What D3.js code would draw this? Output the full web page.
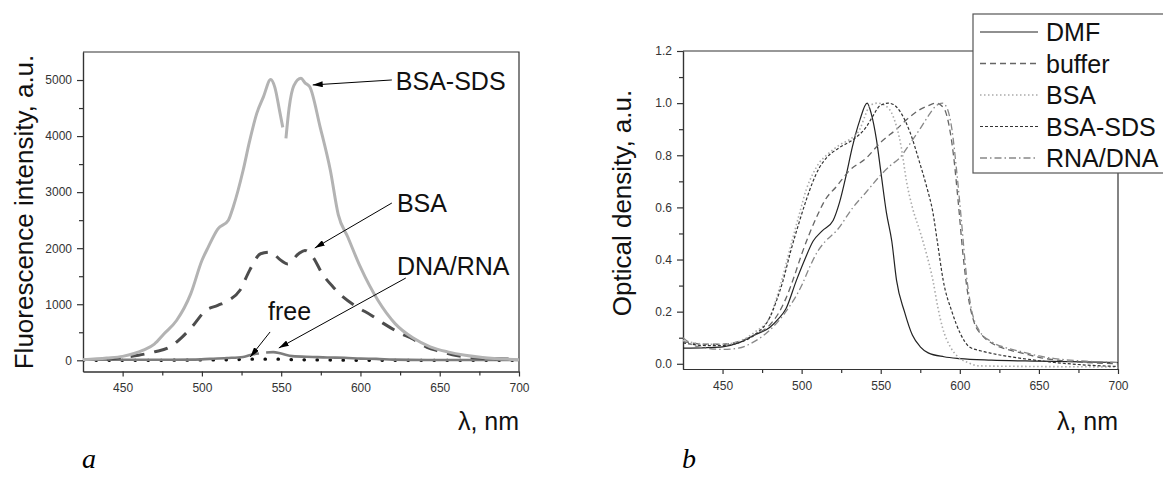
<!DOCTYPE html>
<html>
<head>
<meta charset="utf-8">
<script src="https://cdn.jsdelivr.net/npm/d3@7"></script>
<style>
  body { margin: 0; background: #fff; overflow: hidden; }
  svg { display: block; font-family: 'Liberation Sans', Arial, sans-serif; }
  .axis text { font-size: 12px; fill: #333; }
  .axis path, .axis line { stroke: #333; stroke-width: 1.2; }
</style>
</head>
<body>
<svg id="chart" width="1163" height="477"></svg>
<script>
// ---- panel a: fluorescence spectra, [wavelength nm, intensity a.u.]
let fluoBsaSds = [
  [425, 10], [440, 40], [450, 70], [463, 180], [470, 290], [476, 470], [484, 710],
  [493, 1190], [500, 1780], [504, 2020], [510, 2340], [516.7, 2500], [519.8, 2740],
  [526, 3390], [530, 3900], [534.6, 4405], [538.8, 4700], [543.4, 5010], [546, 4870],
  [549, 4450], [551, 4155], [552, null], [553, 3960], [555, 4500], [558, 4900],
  [562.5, 5030], [565, 4950], [568, 4880], [574.5, 4170], [581, 3390], [586, 2600],
  [592, 2200], [600, 1660], [611, 1070], [622, 650], [633, 400], [644, 240],
  [655, 150], [666, 90], [677, 50], [700, 10]
]
let fluoBsa = [
  [440, 20], [450, 50], [460, 90], [470, 150], [480, 240], [487, 400], [495, 640],
  [502, 880], [510, 980], [517, 1070], [524, 1250], [530, 1600], [537, 1900],
  [543, 1930], [550, 1780], [554, 1720], [561, 1900], [565, 1960], [570, 1840],
  [576, 1540], [583, 1300], [589, 1130], [598, 950], [607, 800], [615, 650],
  [624, 500], [633, 380], [642, 230], [650, 160], [658, 100], [666, 60], [680, 30],
  [700, 20]
]
let fluoDnaRna = [
  [425, 10], [460, 10], [480, 10], [494.6, 12], [505, 25], [515.7, 40], [526, 60],
  [532.4, 107], [536, 120], [539, null], [540.5, 140], [545, 145], [550, 120],
  [557, 75], [570, 60], [579, 50], [590, 45], [600, 30], [610, 25], [620.6, 12],
  [642, 5], [700, 5]
]
let fluoFree = [
  [425, 0], [470, 0], [500, 5], [520, 10], [530, 20], [545, 20], [560, 10],
  [580, 5], [600, 0], [625, 0], [700, 0]
]
let fluoLabels = [
  { text: 'BSA-SDS', at: [622.3, 4822], from: [619.8, 5001], to: [569.9, 4912] },
  { text: 'BSA', at: [623, 2646], from: [619.8, 2806], to: [571.2, 2003] },
  { text: 'DNA/RNA', at: [623, 1522], from: [628.6, 1468], to: [548.5, 219] },
  { text: 'free', at: [541.7, 719], from: [543, 505], to: [530.5, 59] }
]

// ---- panel b: absorption spectra, [wavelength nm, optical density]
let odDmf = [
  [425, 0.06], [440, 0.062], [450, 0.065], [460, 0.08], [470, 0.11], [480, 0.14],
  [485, 0.17], [490, 0.21], [496.7, 0.32], [502, 0.4], [507.2, 0.47], [513, 0.51],
  [519.9, 0.55], [524, 0.62], [528.4, 0.73], [532, 0.83], [536.8, 0.935],
  [541.4, 1.0], [544, 0.96], [547.3, 0.86], [550, 0.74], [553.6, 0.58], [557, 0.47],
  [560, 0.32], [565, 0.2], [570, 0.11], [575, 0.065], [580, 0.042], [590, 0.027],
  [600, 0.02], [620, 0.014], [650, 0.01], [700, 0.005]
]
let odBuffer = [
  [425, 0.085], [440, 0.075], [450, 0.075], [460, 0.085], [470, 0.11], [480, 0.15],
  [485, 0.19], [490, 0.25], [495, 0.33], [500, 0.42], [505, 0.5], [510, 0.57],
  [515, 0.63], [522, 0.68], [530, 0.74], [541, 0.79], [550, 0.85], [560, 0.9],
  [567, 0.94], [574.7, 0.975], [580, 0.99], [585, 1.0], [590, 0.98], [593, 0.92],
  [596, 0.8], [599, 0.62], [602, 0.42], [605, 0.27], [609, 0.16], [614, 0.11],
  [620, 0.08], [630, 0.055], [640, 0.04], [650, 0.025], [660, 0.015], [680, 0.005],
  [700, 0.0]
]
let odBsa = [
  [425, 0.09], [440, 0.075], [450, 0.075], [460, 0.085], [470, 0.12], [480, 0.18],
  [484, 0.25], [488.3, 0.34], [493, 0.45], [498.8, 0.58], [503, 0.67], [507.2, 0.73],
  [511, 0.77], [515.7, 0.8], [524.1, 0.84], [532.5, 0.87], [536.8, 0.9], [540, 0.95],
  [543.1, 0.99], [548, 1.0], [553, 0.99], [557.8, 0.95], [563, 0.83], [566.3, 0.7],
  [570, 0.6], [574.7, 0.51], [579, 0.42], [583, 0.32], [586, 0.22], [589, 0.14],
  [594, 0.065], [599, 0.026], [605, 0.005], [612, -0.008], [640, -0.01], [700, -0.012]
]
let odBsaSds = [
  [425, 0.08], [440, 0.07], [450, 0.07], [460, 0.08], [470, 0.11], [480, 0.18],
  [484, 0.24], [488.3, 0.32], [493, 0.43], [498.8, 0.55], [503, 0.63], [507.2, 0.7],
  [511, 0.75], [515.7, 0.79], [524.1, 0.83], [532.5, 0.86], [541, 0.91], [545, 0.95],
  [549.5, 0.99], [554.7, 1.0], [558, 0.995], [562, 0.97], [568.4, 0.89], [574.7, 0.77],
  [579, 0.68], [583, 0.58], [586, 0.46], [589.5, 0.32], [595, 0.2], [600.4, 0.115],
  [606, 0.065], [613, 0.05], [620, 0.04], [640, 0.02], [660, 0.005], [680, -0.005],
  [700, -0.01]
]
let odRnaDna = [
  [425, 0.1], [432, 0.07], [440, 0.06], [450, 0.055], [460, 0.06], [470, 0.085],
  [480, 0.13], [490, 0.2], [500, 0.3], [505, 0.37], [510, 0.43], [515, 0.47],
  [522, 0.51], [532.5, 0.6], [541, 0.66], [549.4, 0.72], [556, 0.76], [562, 0.79],
  [568, 0.84], [574.7, 0.9], [580, 0.95], [585, 0.99], [589, 1.0], [592, 0.98],
  [595, 0.9], [598, 0.74], [601, 0.55], [604, 0.35], [607, 0.22], [612, 0.13],
  [620, 0.085], [630, 0.06], [640, 0.045], [650, 0.03], [660, 0.02], [680, 0.01],
  [700, 0.005]
]

let wlMajor = [450, 500, 550, 600, 650, 700]
let wlMinor = [475, 525, 575, 625, 675]
let fluoMajor = [0, 1000, 2000, 3000, 4000, 5000]
let fluoMinor = [500, 1500, 2500, 3500, 4500]
let odMajor = [0, 0.2, 0.4, 0.6, 0.8, 1.0, 1.2]
let odMinor = [0.1, 0.3, 0.5, 0.7, 0.9, 1.1]
let legendNames = ['DMF', 'buffer', 'BSA', 'BSA-SDS', 'RNA/DNA']

let svg = d3.select('#chart')

let defs = svg.append('defs')
defs
  .append('marker')
  .attr('id', 'arrow')
  .attr('viewBox', '0 0 10 6')
  .attr('refX', 10)
  .attr('refY', 3)
  .attr('markerWidth', 10)
  .attr('markerHeight', 6)
  .attr('markerUnits', 'userSpaceOnUse')
  .attr('orient', 'auto')
  .append('path')
  .attr('d', 'M0,0L10,3L0,6Z')
  .attr('fill', '#000')

function makeFrame(id, xScale, yScale, yMajor, yMinor, yFormat) {
  let g = svg.append('g')
  let [x0, x1] = xScale.range()
  let [y0, y1] = yScale.range()

  defs
    .append('clipPath')
    .attr('id', id)
    .append('rect')
    .attr('x', x0)
    .attr('y', y1)
    .attr('width', x1 - x0)
    .attr('height', y0 - y1)

  // minor ticks first, majors on top
  g.append('g')
    .attr('class', 'axis')
    .attr('transform', 'translate(0,' + y0 + ')')
    .call(d3.axisBottom(xScale).tickValues(wlMinor).tickSize(4).tickFormat('').tickSizeOuter(0))
  g.append('g')
    .attr('class', 'axis')
    .attr('transform', 'translate(0,' + y0 + ')')
    .call(d3.axisBottom(xScale).tickValues(wlMajor).tickSize(5).tickPadding(7).tickSizeOuter(0))

  g.append('g')
    .attr('class', 'axis')
    .attr('transform', 'translate(' + x0 + ',0)')
    .call(d3.axisLeft(yScale).tickValues(yMinor).tickSize(4).tickFormat('').tickSizeOuter(0))
  g.append('g')
    .attr('class', 'axis')
    .attr('transform', 'translate(' + x0 + ',0)')
    .call(
      d3.axisLeft(yScale).tickValues(yMajor).tickSize(6).tickPadding(5)
        .tickFormat(yFormat).tickSizeOuter(0)
    )

  // top and right border of the box
  g.append('path')
    .attr('d', 'M' + x0 + ',' + y1 + 'H' + x1 + 'V' + y0)
    .attr('fill', 'none')
    .attr('stroke', '#333')
    .attr('stroke-width', 1.2)

  return g
}

function drawSeries(g, clipId, xScale, yScale, data, style) {
  let line = d3
    .line()
    .defined(d => d[1] !== null)
    .x(d => xScale(d[0]))
    .y(d => yScale(d[1]))
    .curve(d3.curveMonotoneX)
  g.append('path')
    .datum(data)
    .attr('clip-path', 'url(#' + clipId + ')')
    .attr('d', line)
    .attr('fill', 'none')
    .attr('stroke', style.color)
    .attr('stroke-width', style.width)
    .attr('stroke-dasharray', style.dash || null)
    .attr('stroke-linecap', style.cap || 'butt')
    .attr('stroke-linejoin', 'round')
}

// ================= panel a =================
let xA = d3.scaleLinear().domain([425, 700]).range([83, 519])
let yA = d3.scaleLinear().domain([-200, 5500]).range([371.5, 52])

let gA = makeFrame('clip-a', xA, yA, fluoMajor, fluoMinor, d3.format('d'))

drawSeries(gA, 'clip-a', xA, yA, fluoFree, { color: '#111', width: 3.2, dash: '0.5,12.5', cap: 'round' })
drawSeries(gA, 'clip-a', xA, yA, fluoDnaRna, { color: '#7d7d7d', width: 2.6 })
drawSeries(gA, 'clip-a', xA, yA, fluoBsa, { color: '#4d4d4d', width: 3, dash: '14,10' })
drawSeries(gA, 'clip-a', xA, yA, fluoBsaSds, { color: '#b3b3b3', width: 3 })

fluoLabels.forEach(d => {
  gA.append('line')
    .attr('x1', xA(d.from[0]))
    .attr('y1', yA(d.from[1]))
    .attr('x2', xA(d.to[0]))
    .attr('y2', yA(d.to[1]))
    .attr('stroke', '#000')
    .attr('stroke-width', 1)
    .attr('marker-end', 'url(#arrow)')
  gA.append('text')
    .attr('x', xA(d.at[0]))
    .attr('y', yA(d.at[1]))
    .attr('font-size', 25)
    .attr('fill', '#111')
    .text(d.text)
})

gA.append('text')
  .attr('transform', 'translate(24,212) rotate(-90)')
  .attr('text-anchor', 'middle')
  .attr('dy', '0.35em')
  .attr('font-size', 26)
  .attr('fill', '#111')
  .text('Fluorescence intensity, a.u.')

gA.append('text')
  .attr('x', 519)
  .attr('y', 430)
  .attr('text-anchor', 'end')
  .attr('font-size', 25)
  .attr('fill', '#111')
  .text('λ, nm')

gA.append('text')
  .attr('x', 82)
  .attr('y', 468)
  .attr('font-family', "'Liberation Serif', 'Times New Roman', serif")
  .attr('font-style', 'italic')
  .attr('font-size', 28)
  .text('a')

// ================= panel b =================
let xB = d3.scaleLinear().domain([425, 700]).range([683, 1118])
let yB = d3.scaleLinear().domain([-0.02, 1.2]).range([369, 51])

let gB = makeFrame('clip-b', xB, yB, odMajor, odMinor, d3.format('.1f'))

let odStyles = [
  { color: '#222', width: 1.2 },
  { color: '#666', width: 1.3, dash: '6,4' },
  { color: '#aaa', width: 1.6, dash: '1.5,2.5' },
  { color: '#333', width: 1.2, dash: '3,2' },
  { color: '#888', width: 1.3, dash: '7,3,1.5,3' }
]
let odSeries = [odDmf, odBuffer, odBsa, odBsaSds, odRnaDna]

odSeries.forEach((data, i) => {
  drawSeries(gB, 'clip-b', xB, yB, data, odStyles[i])
})

// legend box in the upper right corner
let legend = gB.append('g')
legend
  .append('rect')
  .attr('x', 973)
  .attr('y', 14)
  .attr('width', 200)
  .attr('height', 159)
  .attr('fill', '#fff')
  .attr('stroke', '#555')
  .attr('stroke-width', 1.2)

legendNames.forEach((name, i) => {
  let cy = 32 + i * 31.5
  legend
    .append('line')
    .attr('x1', 980)
    .attr('x2', 1038)
    .attr('y1', cy)
    .attr('y2', cy)
    .attr('stroke', odStyles[i].color)
    .attr('stroke-width', odStyles[i].width)
    .attr('stroke-dasharray', odStyles[i].dash || null)
  legend
    .append('text')
    .attr('x', 1046)
    .attr('y', cy)
    .attr('dy', '0.36em')
    .attr('font-size', 25)
    .attr('fill', '#111')
    .text(name)
})

gB.append('text')
  .attr('transform', 'translate(622,203) rotate(-90)')
  .attr('text-anchor', 'middle')
  .attr('dy', '0.35em')
  .attr('font-size', 26)
  .attr('fill', '#111')
  .text('Optical density, a.u.')

gB.append('text')
  .attr('x', 1118)
  .attr('y', 430)
  .attr('text-anchor', 'end')
  .attr('font-size', 25)
  .attr('fill', '#111')
  .text('λ, nm')

gB.append('text')
  .attr('x', 682)
  .attr('y', 468)
  .attr('font-family', "'Liberation Serif', 'Times New Roman', serif")
  .attr('font-style', 'italic')
  .attr('font-size', 28)
  .text('b')
</script>
</body>
</html>
